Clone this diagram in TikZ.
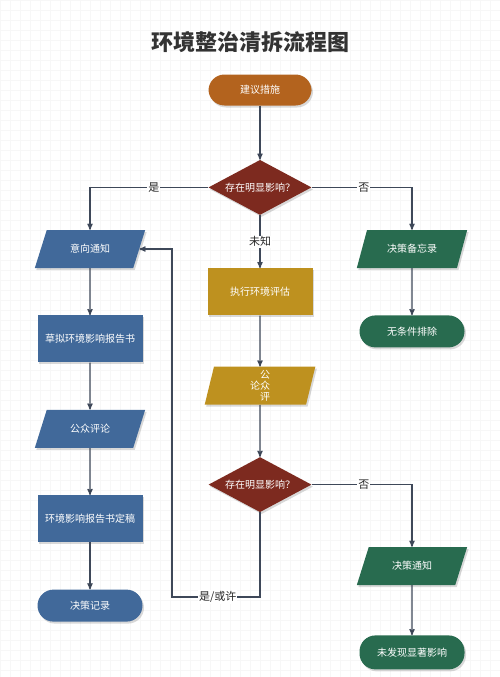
\documentclass[tikz,border=0pt]{standalone}
\usepackage{fontspec}
\setmainfont{Noto Sans CJK SC}
\usetikzlibrary{arrows, positioning, shapes.geometric, shadows}

\definecolor{cBrown}{HTML}{B3631E}
\definecolor{cRed}{HTML}{7D2A1F}
\definecolor{cBlue}{HTML}{41699A}
\definecolor{cGold}{HTML}{BE911F}
\definecolor{cGreen}{HTML}{286B4F}
\definecolor{cLine}{HTML}{3E4859}

\begin{document}
\begin{tikzpicture}[
    x=1pt, y=-1pt,
    >=stealth',
    node distance=47pt,
    font=\fontsize{10}{12}\selectfont,
    task/.style={rectangle, text=white, minimum width=105pt, minimum height=47pt, shadowed},
    pill/.style={rectangle, rounded corners=16pt, text=white, minimum width=105pt, minimum height=32pt, shadowed},
    io/.style={trapezium, trapezium left angle=68, trapezium right angle=112, trapezium stretches=true,
               text=white, minimum width=111pt, minimum height=38pt, shadowed},
    decision/.style={diamond, aspect=1.87, inner sep=0pt, fill=cRed, text=white,
                     minimum width=103pt, minimum height=55pt, shadowed},
    lbl/.style={fill=white, inner sep=1pt, text=black!85, font=\fontsize{11}{12}\selectfont},
    flow/.style={draw=cLine, line width=1.2pt}
]
    \tikzstyle{shadowed}=[drop shadow={shadow xshift=1.5pt, shadow yshift=-2pt, fill=black, opacity=0.15}]

    \useasboundingbox (0,0) rectangle (500,677);
    \draw[black!3, line width=0.4pt, step=10pt] (0,0) grid (500,677);

    \node[font=\fontsize{22}{24}\selectfont\bfseries, text=black!80] (title) at (250,42) {环境整治清拆流程图};

    % middle column
    \node[pill, fill=cBrown, minimum width=103pt, minimum height=31pt] (start) at (260,90) {建议措施};
    \node[decision]         (check1)    [below=54pt of start]   {存在明显影响？};
    \node[task, fill=cGold] (assess)    [below=53pt of check1]  {执行环境评估};
    \node[io, fill=cGold]   (pubreview) [below=51pt of assess]
        {\smash{\raisebox{-4pt}{论\begin{tabular}[c]{@{}c@{}}公\\[-1pt]众\\[-1pt]评\end{tabular}}}};
    \node[decision]         (check2)    [below=52pt of pubreview] {存在明显影响？};

    % left column
    \node[io, fill=cBlue]   (notice)    at (90,249)             {意向通知};
    \node[task, fill=cBlue] (draft)     [below=of notice]       {草拟环境影响报告书};
    \node[io, fill=cBlue]   (comment)   [below=of draft]        {公众评论};
    \node[task, fill=cBlue] (final)     [below=of comment]      {环境影响报告书定稿};
    \node[pill, fill=cBlue] (record)    [below=of final]        {决策记录};

    % right column
    \node[io, fill=cGreen]  (memo)      at (412,249)            {决策备忘录};
    \node[pill, fill=cGreen] (exclude)  [below=of memo]         {无条件排除};
    \node[io, fill=cGreen]  (decide)    at (412,566)            {决策通知};
    \node[pill, fill=cGreen, minimum height=34pt] (noimpact) [below=50pt of decide] {未发现显著影响};

    \coordinate (back) at (172,597);

    \path[->, flow]
    (start)     edge (check1)
    (check1)    edge node[lbl] {未知} (assess)
    (assess)    edge (pubreview)
    (pubreview) edge (check2)
    (notice)    edge (draft)
    (draft)     edge (comment)
    (comment)   edge (final)
    (final)     edge (record)
    (memo)      edge (exclude)
    (decide)    edge (noimpact);

    \draw[->, flow] (check1) -| node[lbl, pos=0.23] {是} (notice);
    \draw[->, flow] (check1) -| node[lbl, pos=0.26] {否} (memo);
    \draw[->, flow] (check2) -| node[lbl, pos=0.26] {否} (decide);
    \draw[->, flow] (check2) |- node[lbl, pos=0.74] {是/或许} (back) |- (notice);
\end{tikzpicture}
\end{document}
